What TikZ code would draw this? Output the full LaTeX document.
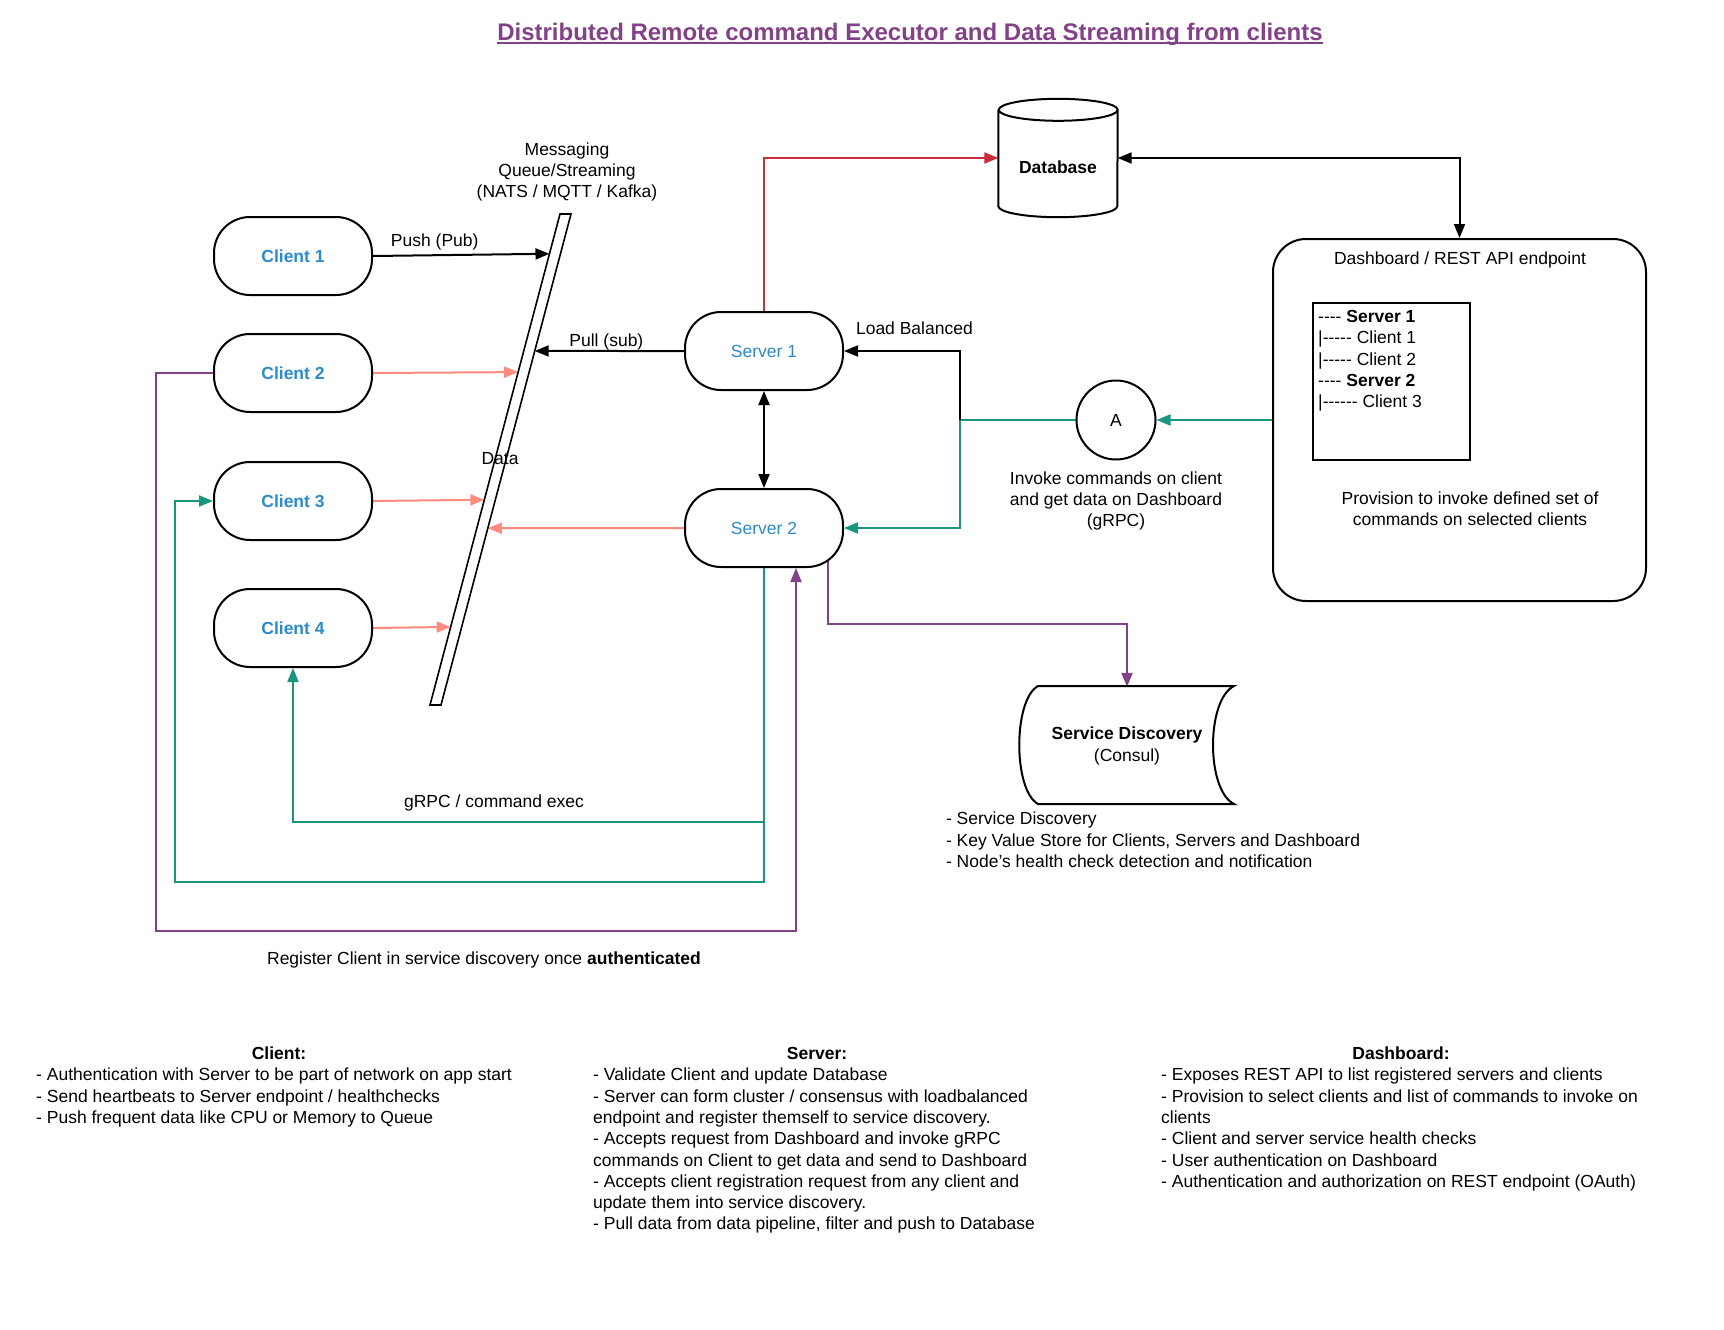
\documentclass[tikz,border=0pt]{standalone}
\usepackage{fontspec}
\setmainfont{Liberation Sans}
\usetikzlibrary{arrows.meta,calc,backgrounds}
\definecolor{clientblue}{HTML}{2D8BCB}
\definecolor{dbred}{HTML}{C92D39}
\definecolor{datasalmon}{HTML}{FF8A80}
\definecolor{cmdgreen}{HTML}{19967D}
\definecolor{regpurple}{HTML}{834187}
\tikzset{
  pill/.style={draw, line width=2pt, fill=white, rounded corners=36pt,
    minimum width=158pt, minimum height=78pt, text=clientblue},
  link/.style={line width=2pt, -{Triangle[length=14pt,width=11pt]}},
  both/.style={line width=2pt, {Triangle[length=14pt,width=11pt]}-{Triangle[length=14pt,width=11pt]}},
}
\begin{document}
\begin{tikzpicture}[x=1pt, y=-1pt, node font=\fontsize{17.5}{21.3}\selectfont]
	\useasboundingbox (0,0) rectangle (1724,1330);
	% title
	\node[font=\fontsize{24}{28}\selectfont\bfseries, text=regpurple, inner sep=0pt] (title) at (910,34) {Distributed Remote command Executor and Data Streaming from clients};
	\draw[regpurple, line width=1.8pt] ([yshift=-3pt]title.base west) -- ([yshift=-3pt]title.base east);
	% clients
	\node[pill, font=\bfseries] (client1) at (293,256) {Client 1};
	\node[pill, font=\bfseries] (client2) at (293,373) {Client 2};
	\node[pill, font=\bfseries] (client3) at (293,501) {Client 3};
	\node[pill, font=\bfseries] (client4) at (293,628) {Client 4};
	% messaging queue
	\coordinate (qtl) at (560,214);
	\coordinate (qtr) at (571,214);
	\coordinate (qbr) at (441,705);
	\coordinate (qbl) at (430,705);
	\filldraw[fill=white, line width=1.6pt] (qtl) -- (qtr) -- (qbr) -- (qbl) -- cycle;
	\node[align=center] (queuelabel) at (567,172) {Messaging\\Queue/Streaming\\(NATS / MQTT / Kafka)};
	\node (datalabel) at (500,459) {Data};
	% servers
	\node[pill] (server1) at (764,351) {Server 1};
	\node[pill] (server2) at (764,528) {Server 2};
	\node[anchor=west] (lblabel) at (850,328) {Load Balanced};
	\coordinate (lb) at (960,420);
	% database
	\node[minimum width=119pt, minimum height=118pt] (db) at (1058,158) {};
	\filldraw[fill=white, line width=2pt] ([yshift=-11pt]db.north west) -- ([yshift=11pt]db.south west)
		arc[start angle=180, end angle=360, x radius=59.5pt, y radius=11pt] -- ([yshift=-11pt]db.north east)
		arc[start angle=0, end angle=180, x radius=59.5pt, y radius=11pt]
		arc[start angle=180, end angle=360, x radius=59.5pt, y radius=11pt];
	\node[font=\bfseries] (dblabel) at ([yshift=-9pt]db.center) {Database};
	% dashboard
	\node[draw, line width=2pt, fill=white, rounded corners=33pt, minimum width=373pt, minimum height=362pt] (dash) at (1459.5,420) {};
	\node (dashtitle) at (1460,260) {Dashboard / REST API endpoint};
	\node[draw, line width=2pt, minimum width=157pt, minimum height=157pt] (tree) at (1391.5,381.5) {};
	\node[align=left, anchor=north west, inner sep=0pt] (treetext) at (1318,310) {-{}-{}-{}- \textbf{Server 1}\\|-{}-{}-{}-{}- Client 1\\|-{}-{}-{}-{}- Client 2\\-{}-{}-{}- \textbf{Server 2}\\|-{}-{}-{}-{}-{}- Client 3};
	\node[align=center] (provision) at (1470,509) {Provision to invoke defined set of\\commands on selected clients};
	% command router
	\node[draw, circle, line width=2pt, fill=white, minimum size=79pt, inner sep=0pt] (a) at (1116,420) {A};
	\node[align=center] (invoke) at (1116,501) {Invoke commands on client\\and get data on Dashboard\\(gRPC)};
	% service discovery
	\filldraw[fill=white, line width=2pt] (1038,686) -- (1234,686) .. controls (1206,700) and (1206,790) .. (1234,804)
		-- (1038,804) .. controls (1013,790) and (1013,700) .. (1038,686) -- cycle;
	\node[minimum width=214pt, minimum height=118pt, align=center] (sd) at (1127,746) {\textbf{Service Discovery}\\(Consul)};
	\node[anchor=west, align=left] (sdnotes) at (940,840) {- Service Discovery\\- Key Value Store for Clients, Servers and Dashboard\\- Node's health check detection and notification};
	% loop labels
	\node (grpclabel) at (494,803) {gRPC / command exec};
	\node (reglabel) at (484,960) {Register Client in service discovery once \textbf{authenticated}};
	\coordinate (sdturn) at (828,624);
	\coordinate (cmd1) at (764,822);
	\coordinate (cmd2) at (764,882);
	\coordinate (cmdleft) at (175,501);
	\coordinate (regcorner) at (156,931);
	% notes
	\node[font=\bfseries] (clienthead) at (279,1053) {Client:};
	\node[align=left, anchor=north west, inner sep=0pt] (clientnotes) at (36,1068) {- Authentication with Server to be part of network on app start\\- Send heartbeats to Server endpoint / healthchecks\\- Push frequent data like CPU or Memory to Queue};
	\node[font=\bfseries] (serverhead) at (817,1053) {Server:};
	\node[align=left, anchor=north west, inner sep=0pt] (servernotes) at (593,1068) {- Validate Client and update Database\\- Server can form cluster / consensus with loadbalanced\\endpoint and register themself to service discovery.\\- Accepts request from Dashboard and invoke gRPC\\commands on Client to get data and send to Dashboard\\- Accepts client registration request from any client and\\update them into service discovery.\\- Pull data from data pipeline, filter and push to Database};
	\node[font=\bfseries] (dashhead) at (1401,1053) {Dashboard:};
	\node[align=left, anchor=north west, inner sep=0pt] (dashnotes) at (1161,1068) {- Exposes REST API to list registered servers and clients\\- Provision to select clients and list of commands to invoke on\\clients\\- Client and server service health checks\\- User authentication on Dashboard\\- Authentication and authorization on REST endpoint (OAuth)};
	% connectors
	\begin{scope}[on background layer]
		\draw[link] (client1.east) -- ($(qtl)!0.081!(qbl)$) node[pos=0.35, above, yshift=-2pt] (pushlabel) {Push (Pub)};
		\draw[link, datasalmon] (client2.east) -- ($(qtl)!0.322!(qbl)$);
		\draw[link, datasalmon] (client3.east) -- ($(qtl)!0.582!(qbl)$);
		\draw[link, datasalmon] (client4.east) -- ($(qtl)!0.841!(qbl)$);
		\draw[link] (server1.west) -- ($(qtr)!0.279!(qbr)$) node[pos=0.52, above, yshift=-6pt] (pulllabel) {Pull (sub)};
		\draw[link, datasalmon] (server2.west) -- ($(qtr)!0.640!(qbr)$);
		\draw[link, dbred] (server1.north) |- (db.west);
		\draw[both] (db.east) -| (dash.north);
		\draw[both] (server1.south) -- (server2.north);
		\draw[link, cmdgreen] (dash.west) -- (a.east);
		\draw[cmdgreen, line width=2pt] (a.west) -- (lb);
		\draw[link] (lb) |- (server1.east);
		\draw[link, cmdgreen] (lb) |- (server2.east);
		\draw[link, regpurple] ([xshift=64pt]server2.center) -- (sdturn) -| (sd.north);
		\draw[link, cmdgreen] (server2.south) -- (cmd1) -| (client4.south);
		\draw[link, cmdgreen] (cmd1) -- (cmd2) -| (cmdleft) -- (client3.west);
		\draw[link, regpurple] (client2.west) -| (regcorner) -| ([xshift=32pt]server2.south);
	\end{scope}
\end{tikzpicture}
\end{document}
